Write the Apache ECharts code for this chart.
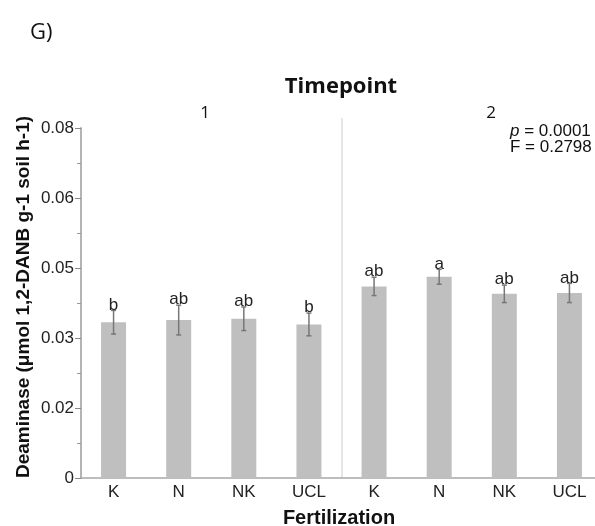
<!DOCTYPE html>
<html>
<head>
<meta charset="utf-8">
<script src="https://cdn.jsdelivr.net/npm/echarts@6/dist/echarts.min.js"></script>
<style>
  html, body { margin: 0; padding: 0; background: #fff; }
  #container { width: 595px; height: 526px; }
</style>
</head>
<body>
<div id="container"></div>
<script>
// data
var fertilization = ['K', 'N', 'NK', 'UCL'];
var timepoints = ['1', '2'];
var means = [0.0356, 0.0361, 0.0364, 0.0351, 0.0438, 0.0460, 0.0421, 0.0423];
var errors = [0.0027, 0.0034, 0.0027, 0.0026, 0.0021, 0.0017, 0.0020, 0.0022];
var letters = ['b', 'ab', 'ab', 'b', 'ab', 'a', 'ab', 'ab'];
var yMax = 0.08;
var yStep = 0.016;

// one category per fertilization x timepoint
var categories = [];
timepoints.forEach(function (t) {
    fertilization.forEach(function (f) { categories.push(f + '|' + t); });
});

var errData = means.map(function (m, i) { return [i, m, errors[i]]; });

var myChart = echarts.init(document.getElementById('container'));
myChart.setOption({
    animation: false,
    // the original plot runs a little past the right edge of the picture
    grid: { left: 81, right: -7, top: 128, bottom: 48, outerBoundsMode: 'none', containLabel: false },
    xAxis: {
        type: 'category',
        data: categories,
        axisLine: { lineStyle: { color: '#a8a8a8', width: 1.5 } },
        axisTick: { show: false },
        axisLabel: {
            color: '#222', fontSize: 17, fontFamily: 'Liberation Sans', margin: 6,
            formatter: function (v) { return v.split('|')[0]; }
        }
    },
    yAxis: {
        type: 'value',
        min: 0, max: yMax, interval: yStep,
        splitLine: { show: false },
        axisLine: { show: true, lineStyle: { color: '#b4b4b4', width: 2 } },
        axisTick: { show: true, length: 6, lineStyle: { color: '#888' } },
        minorTick: { show: true, splitNumber: 2, length: 4, lineStyle: { color: '#999' } },
        axisLabel: {
            color: '#222', fontSize: 17, fontFamily: 'Liberation Sans', margin: 7,
            formatter: function (v) { return v === 0 ? '0' : v.toFixed(2); }
        }
    },
    series: [{
        type: 'bar',
        data: means,
        barWidth: 25,
        itemStyle: { color: '#bfbfbf' }
    }, {
        type: 'custom',
        data: errData,
        z: 5,
        renderItem: function (params, api) {
            var i = api.value(0), m = api.value(1), e = api.value(2);
            var top = api.coord([i, m + e]);
            var bot = api.coord([i, m - e]);
            var x = top[0], c = 2.5;
            var st = { stroke: '#777', lineWidth: 1.5 };
            return {
                type: 'group',
                children: [
                    { type: 'line', shape: { x1: x, y1: top[1], x2: x, y2: bot[1] }, style: st },
                    { type: 'line', shape: { x1: x - c, y1: top[1], x2: x + c, y2: top[1] }, style: st },
                    { type: 'line', shape: { x1: x - c, y1: bot[1], x2: x + c, y2: bot[1] }, style: st },
                    { type: 'text', x: x, y: top[1] + 3,
                      style: { text: letters[i], fill: '#222', font: '17px "Liberation Sans"',
                               align: 'center', verticalAlign: 'bottom' } }
                ]
            };
        }
    }],
    graphic: [
        { type: 'text', left: 30, top: 22,
          style: { text: 'G)', fill: '#111', font: '22px "Open Sans"' } },
        { type: 'text', x: 341, y: 87,
          style: { text: 'Timepoint', fill: '#111', font: 'bold 22px "Open Sans"', align: 'center', verticalAlign: 'middle' } },
        { type: 'text', x: 205, y: 113,
          style: { text: timepoints[0], fill: '#111', font: '17px "Open Sans"', align: 'center', verticalAlign: 'middle' } },
        { type: 'text', x: 491, y: 113,
          style: { text: timepoints[1], fill: '#111', font: '17px "Open Sans"', align: 'center', verticalAlign: 'middle' } },
        { type: 'text', x: 510, y: 131,
          style: { rich: { i: { fontStyle: 'italic', fontSize: 17, fontFamily: 'Liberation Sans', fill: '#111' },
                           n: { fontSize: 17, fontFamily: 'Liberation Sans', fill: '#111' } },
                   text: '{i|p}{n| = 0.0001}', verticalAlign: 'middle' } },
        { type: 'text', x: 510, y: 147,
          style: { text: 'F = 0.2798', fill: '#111', font: '17px "Liberation Sans"', verticalAlign: 'middle' } },
        { type: 'text', x: 339, y: 518,
          style: { text: 'Fertilization', fill: '#111', font: 'bold 20px "Liberation Sans"', align: 'center', verticalAlign: 'middle' } },
        { type: 'text', x: 24, y: 297, rotation: Math.PI / 2,
          style: { text: 'Deaminase (\u03bcmol 1,2-DANB g-1 soil h-1)', fill: '#111',
                   font: 'bold 19px "Liberation Sans"', align: 'center', verticalAlign: 'middle' } }
    ]
});

// separator between the two timepoints, halfway between category 3 and 4
var p3 = myChart.convertToPixel({ xAxisIndex: 0 }, 3);
var p4 = myChart.convertToPixel({ xAxisIndex: 0 }, 4);
var sepX = Math.round((p3 + p4) / 2);
var yBase = myChart.convertToPixel({ yAxisIndex: 0 }, 0);
myChart.setOption({
    graphic: [{
        type: 'line', id: 'sep', silent: true,
        shape: { x1: sepX, y1: 118, x2: sepX, y2: yBase },
        style: { stroke: '#dcdcdc', lineWidth: 1.5 }
    }]
});
</script>
</body>
</html>
